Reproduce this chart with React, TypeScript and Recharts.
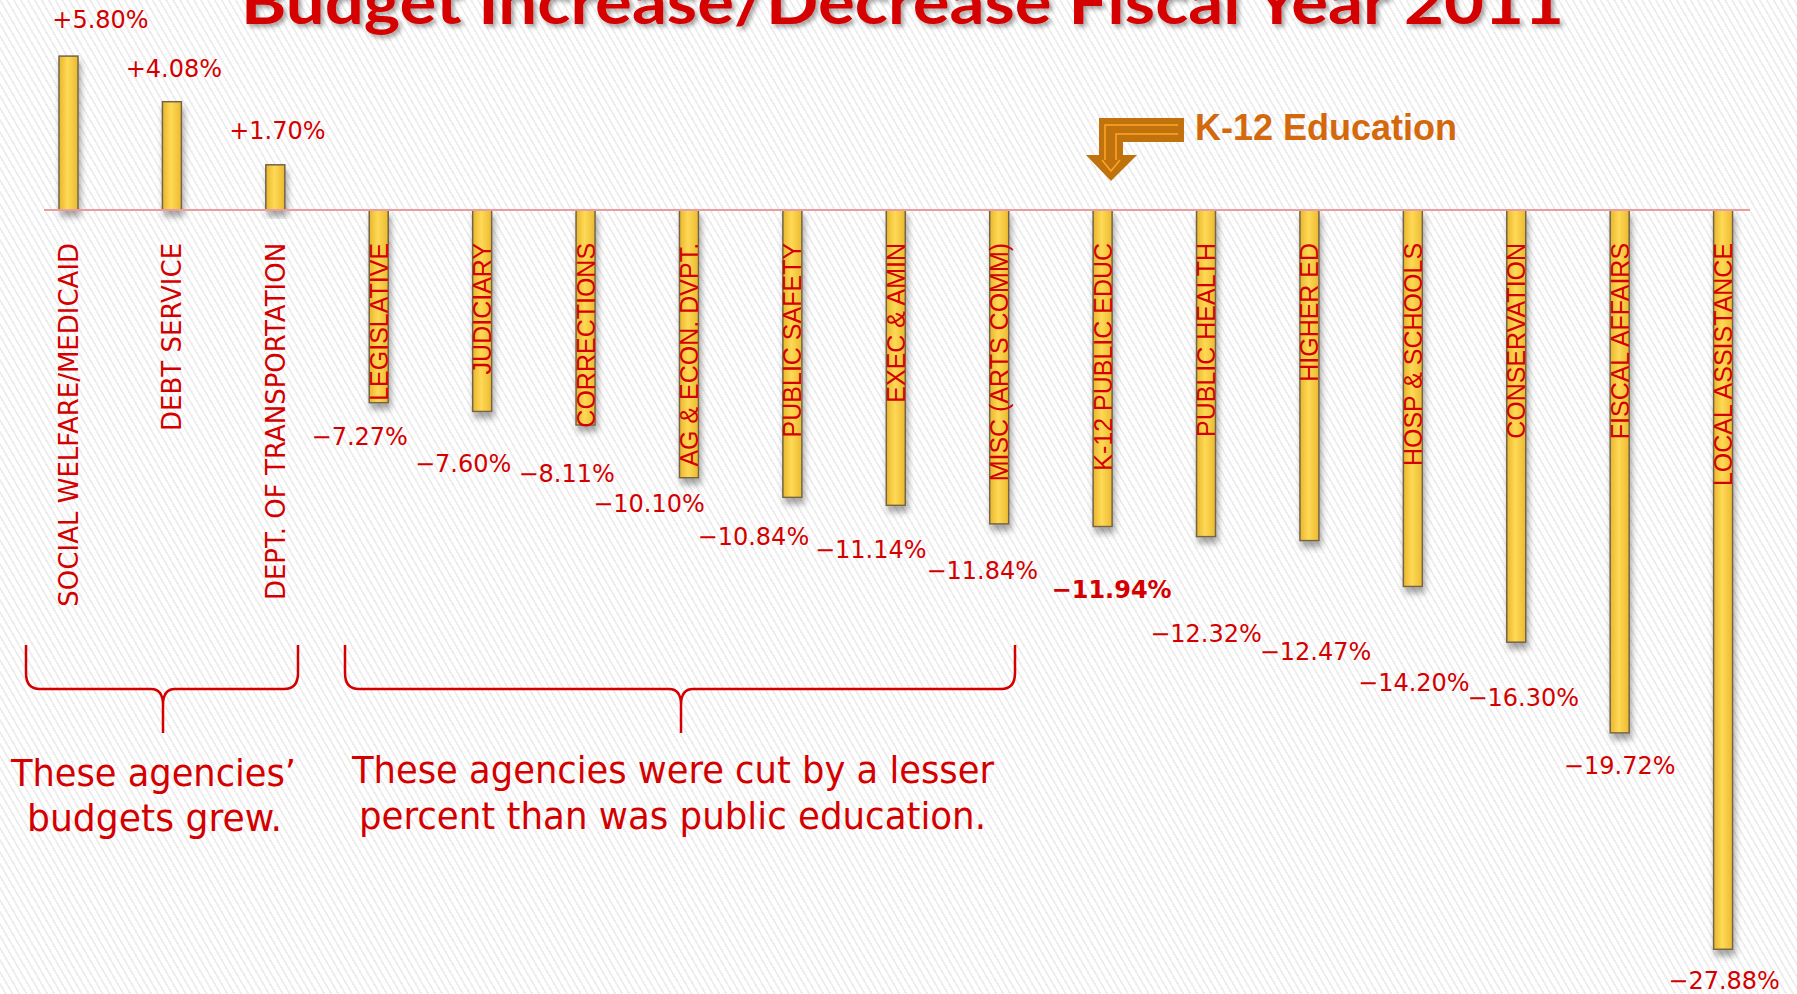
import { BarChart, Bar, XAxis, YAxis, ReferenceLine, LabelList } from 'recharts'

const categories = [
  'SOCIAL WELFARE/MEDICAID',
  'DEBT SERVICE',
  'DEPT. OF TRANSPORTATION',
  'LEGISLATIVE',
  'JUDICIARY',
  'CORRECTIONS',
  'AG & ECON. DVPT.',
  'PUBLIC SAFETY',
  'EXEC & AMIN',
  'MISC (ARTS COMM)',
  'K-12 PUBLIC EDUC',
  'PUBLIC HEALTH',
  'HIGHER ED',
  'HOSP & SCHOOLS',
  'CONSERVATION',
  'FISCAL AFFAIRS',
  'LOCAL ASSISTANCE',
]
const changes = [
  5.8, 4.08, 1.7, -7.27, -7.6, -8.11, -10.1, -10.84, -11.14, -11.84, -11.94, -12.32, -12.47, -14.2,
  -16.3, -19.72, -27.88,
]
const highlightIndex = 10

const W = 1797
const H = 994
const MARGIN = { top: 11, right: 22, bottom: 15, left: 17 }
const RED = '#d40000'

// label nudges [dx, distance from bar end] so labels sit like the slide
const LABEL_NUDGE = [
  [32, 36], [2, 33], [2, 34], [-19, 34], [-19, 53], [-19, 49], [-40, 26], [-39, 40], [-25, 45],
  [-17, 47], [9, 63], [0, 97], [6, 111], [1, 97], [7, 56], [0, 33], [1, 32],
]

const fmt = (v: number) => (v >= 0 ? '+' : '\u2212') + Math.abs(v).toFixed(2) + '%'

function GoldBar(props: any) {
  const { x, y, width, height } = props
  const top = Math.min(y, y + height)
  const h = Math.abs(height)
  return (
    <rect
      x={x}
      y={top}
      width={width}
      height={h}
      fill="url(#gold)"
      stroke="#74644a"
      strokeWidth={1.5}
      filter="url(#barShadow)"
    />
  )
}

function ValueLabel(props: any) {
  const { x, y, width, height, value, index } = props
  const top = Math.min(y, y + height)
  const bottom = Math.max(y, y + height)
  const [dx, dist] = LABEL_NUDGE[index] ?? [0, 30]
  const v = Number(value)
  return (
    <text
      x={x + width / 2 + dx}
      y={v >= 0 ? top - dist : bottom + dist}
      textAnchor="middle"
      dominantBaseline="central"
      fill={RED}
      fontFamily="'DejaVu Sans', sans-serif"
      fontSize={24}
      fontWeight={index === highlightIndex ? 'bold' : 'normal'}
    >
      {fmt(v)}
    </text>
  )
}

function CategoryLabel(props: any) {
  const { x, y, width, height, index } = props
  const v = changes[index]
  const zero = v >= 0 ? Math.max(y, y + height) : Math.min(y, y + height)
  const cx = x + width / 2
  const ty = zero + 33
  const positive = v >= 0
  return (
    <text
      transform={`translate(${cx},${ty}) rotate(-90)`}
      textAnchor="end"
      dy="0.36em"
      fill={RED}
      fontFamily={positive ? "'DejaVu Sans', sans-serif" : "'Liberation Sans Narrow', 'Liberation Sans', sans-serif"}
      fontSize={positive ? 26 : 25}
    >
      {categories[index]}
    </text>
  )
}

function ZeroLine(props: any) {
  const { x1, y1, x2, y2 } = props
  if (x1 == null) return null
  return <line x1={x1 + 27} y1={y1} x2={x2 - 25} y2={y2} stroke="#eb9d9d" strokeWidth={2} />
}

function brace(x0: number, x1: number, mid: number) {
  const top = 645
  const ly = 689
  const tip = 733
  return (
    `M ${x0} ${top} L ${x0} ${ly - 16} Q ${x0} ${ly} ${x0 + 14} ${ly} L ${mid - 12} ${ly} ` +
    `Q ${mid} ${ly} ${mid} ${ly + 16} L ${mid} ${tip} M ${mid} ${ly + 16} Q ${mid} ${ly} ${mid + 12} ${ly} ` +
    `L ${x1 - 14} ${ly} Q ${x1} ${ly} ${x1} ${ly - 16} L ${x1} ${top}`
  )
}

export default function App() {
  const data = categories.map((name, i) => ({ name, change: changes[i] }))
  const noteFont = "'DejaVu Sans Condensed', 'DejaVu Sans', sans-serif"
  return (
    <div
      style={{
        position: 'absolute',
        left: 0,
        top: 0,
        width: W,
        height: H,
        overflow: 'hidden',
        background:
          'repeating-linear-gradient(60deg, #ffffff 0px, #ffffff 4px, #eeeeee 4px, #eeeeee 6px)',
      }}
    >
      <svg width={0} height={0} style={{ position: 'absolute' }}>
        <defs>
          <linearGradient id="gold" x1="0" y1="0" x2="1" y2="0">
            <stop offset="0%" stopColor="#e8b62a" />
            <stop offset="45%" stopColor="#ffd957" />
            <stop offset="100%" stopColor="#ebba2e" />
          </linearGradient>
          <filter id="barShadow" x="-50%" y="-10%" width="200%" height="130%">
            <feDropShadow dx="2" dy="6" stdDeviation="3" floodColor="#000" floodOpacity="0.35" />
          </filter>
          <filter id="titleShadow" x="-5%" y="-50%" width="110%" height="200%">
            <feDropShadow dx="3" dy="3" stdDeviation="2" floodColor="#000" floodOpacity="0.35" />
          </filter>
        </defs>
      </svg>
      <BarChart
        width={W}
        height={H}
        data={data}
        margin={MARGIN}
        barSize={19}
        style={{ position: 'absolute', left: 0, top: 0 }}
      >
        <XAxis dataKey="name" hide />
        <YAxis type="number" domain={[-29, 7.5]} hide />
        <ReferenceLine y={0} stroke="#eb9d9d" strokeWidth={2} shape={ZeroLine} />
        <Bar dataKey="change" shape={GoldBar} isAnimationActive={false}>
          <LabelList dataKey="change" content={ValueLabel} />
          <LabelList dataKey="name" content={CategoryLabel} />
        </Bar>
      </BarChart>
      <svg
        width={W}
        height={H}
        style={{ position: 'absolute', left: 0, top: 0, pointerEvents: 'none' }}
      >
        {/* title is cropped by the top edge in the slide */}
        <text
          x={241}
          y={24}
          textLength={1323}
          lengthAdjust="spacingAndGlyphs"
          fill="#d50000"
          fontFamily="Lato, 'Open Sans', sans-serif"
          fontWeight="bold"
          fontSize={62}
          filter="url(#titleShadow)"
        >
          Budget Increase/Decrease Fiscal Year 2011
        </text>

        {/* K-12 arrow */}
        <polygon
          points="1184,118 1099,118 1099,155 1086,155 1111,181 1137,155 1123,155 1123,142 1184,142"
          fill="#c0720c"
        />
        <polyline points="1178,125 1105,125 1105,160" fill="none" stroke="#ffa526" strokeWidth={1.5} />
        <polyline points="1178,134 1116,134 1116,160" fill="none" stroke="#ffa526" strokeWidth={1.5} />
        <polyline points="1102,160 1111,171 1120,160" fill="none" stroke="#ffa526" strokeWidth={1.5} />
        <text
          x={1195}
          y={140}
          fill="#d4680c"
          fontFamily="'Liberation Sans', Arial, sans-serif"
          fontWeight="bold"
          fontSize={36}
        >
          K-12 Education
        </text>

        {/* braces */}
        <path d={brace(26, 298, 163)} fill="none" stroke={RED} strokeWidth={2.5} />
        <path d={brace(345, 1015, 681)} fill="none" stroke={RED} strokeWidth={2.5} />

        <g fill={RED} fontFamily={noteFont} fontSize={38}>
          <text x={11} y={786} textLength={285} lengthAdjust="spacingAndGlyphs">
            These agencies’
          </text>
          <text x={27} y={831} textLength={255} lengthAdjust="spacingAndGlyphs">
            budgets grew.
          </text>
          <text x={352} y={783} textLength={642} lengthAdjust="spacingAndGlyphs">
            These agencies were cut by a lesser
          </text>
          <text x={359} y={829} textLength={627} lengthAdjust="spacingAndGlyphs">
            percent than was public education.
          </text>
        </g>
      </svg>
    </div>
  )
}
